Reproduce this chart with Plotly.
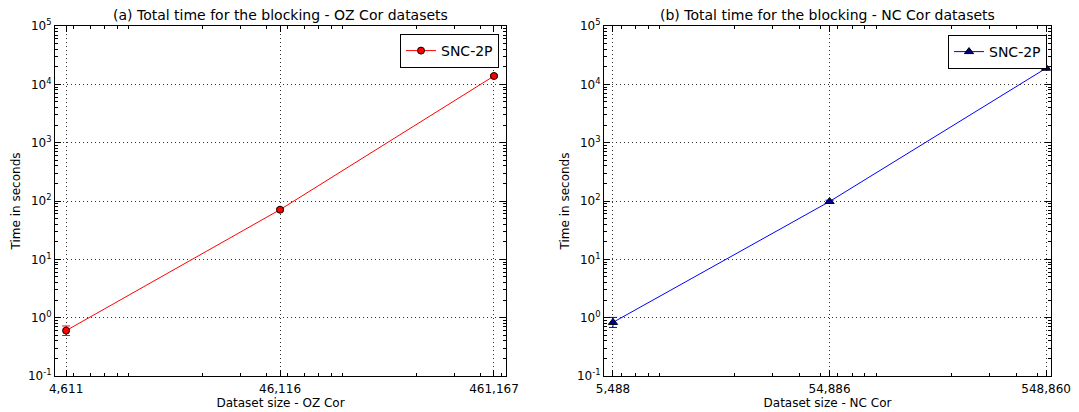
import plotly.graph_objects as go

# ---- data ----
oz_sizes = [4611, 46116, 461167]
oz_labels = ["4,611", "46,116", "461,167"]
oz_times = [0.60, 71, 13900]
oz_err_plus = [0.12, 4, 700]
oz_err_minus = [0.105, 4, 700]

nc_sizes = [5488, 54886, 548860]
nc_labels = ["5,488", "54,886", "548,860"]
nc_times = [0.83, 98, 18900]
nc_err_plus = [0.18, 5, 900]
nc_err_minus = [0.15, 5, 900]

y_tickvals = [0.1, 1, 10, 100, 1000, 10000, 100000]
y_ticktext = ["10<sup>-1</sup>", "10<sup>0</sup>", "10<sup>1</sup>", "10<sup>2</sup>",
              "10<sup>3</sup>", "10<sup>4</sup>", "10<sup>5</sup>"]

titles = ["(a) Total time for the blocking - OZ Cor datasets",
          "(b) Total time for the blocking - NC Cor datasets"]
xlabels = ["Dataset size - OZ Cor", "Dataset size - NC Cor"]

FONT = "DejaVu Sans"

def minor_vals(lo_exp, hi_exp):
    vals = []
    for e in range(lo_exp, hi_exp + 1):
        for k in range(2, 10):
            vals.append(k * 10 ** e)
    return vals

fig = go.Figure()

fig.add_trace(go.Scatter(
    x=oz_sizes, y=oz_times, mode="lines+markers", name="SNC-2P",
    line=dict(color="#ff0000", width=1),
    marker=dict(symbol="circle", size=7, color="#ff0000", line=dict(color="#000000", width=1)),
    error_y=dict(type="data", array=oz_err_plus, arrayminus=oz_err_minus,
                 color="#ff0000", thickness=1, width=4),
    xaxis="x", yaxis="y", legend="legend"))

fig.add_trace(go.Scatter(
    x=nc_sizes, y=nc_times, mode="lines+markers", name="SNC-2P",
    line=dict(color="#0000ff", width=1),
    marker=dict(symbol="triangle-up", size=8, color="#00008b", line=dict(color="#000000", width=1)),
    error_y=dict(type="data", array=nc_err_plus, arrayminus=nc_err_minus,
                 color="#0000ff", thickness=1, width=4),
    xaxis="x2", yaxis="y2", legend="legend2"))

common_axis = dict(
    showline=True, linecolor="black", linewidth=1, mirror="allticks",
    ticks="inside", ticklen=6, tickcolor="black", tickwidth=1,
    showgrid=True, gridcolor="#333333", griddash="1px,3px", gridwidth=1,
    zeroline=False, automargin=False,
    tickfont=dict(family=FONT, size=12, color="black"),
)

yaxis_cfg = dict(common_axis, type="log", range=[-1, 5], tickvals=y_tickvals, ticktext=y_ticktext,
                 minor=dict(tickvals=minor_vals(-1, 4), ticks="inside", ticklen=3,
                            tickcolor="black", showgrid=False),
                 title=dict(text="Time in seconds", font=dict(family=FONT, size=12, color="black"),
                            standoff=4))

xminor = dict(tickvals=minor_vals(3, 5), ticks="inside", ticklen=3, tickcolor="black", showgrid=False)

fig.update_layout(
    width=1079, height=412,
    margin=dict(l=0, r=0, t=0, b=0),
    paper_bgcolor="white", plot_bgcolor="white",
    font=dict(family=FONT, size=12, color="black"),
    showlegend=True,
    xaxis=dict(common_axis, domain=[55 / 1079, 506 / 1079], type="log", range=[3.612, 5.72],
               tickvals=oz_sizes, ticktext=oz_labels, anchor="y", minor=xminor,
               ticklabelstandoff=2,
               title=dict(text=xlabels[0], font=dict(family=FONT, size=12, color="black"), standoff=2)),
    yaxis=dict(yaxis_cfg, domain=[(412 - 376) / 412, (412 - 26) / 412], anchor="x"),
    xaxis2=dict(common_axis, domain=[604 / 1079, 1051 / 1079], type="log", range=[3.698, 5.762],
                tickvals=nc_sizes, ticktext=nc_labels, anchor="y2", minor=xminor,
                ticklabelstandoff=2,
                title=dict(text=xlabels[1], font=dict(family=FONT, size=12, color="black"), standoff=2)),
    yaxis2=dict(yaxis_cfg, domain=[(412 - 376) / 412, (412 - 26) / 412], anchor="x2"),
    legend=dict(x=499 / 1079, y=(412 - 34) / 412, xanchor="right", yanchor="top",
                bordercolor="black", borderwidth=1, bgcolor="white",
                font=dict(family=FONT, size=14, color="black")),
    legend2=dict(x=1047 / 1079, y=(412 - 35) / 412, xanchor="right", yanchor="top",
                 bordercolor="black", borderwidth=1, bgcolor="white",
                 font=dict(family=FONT, size=14, color="black")),
    annotations=[
        dict(text=titles[0], x=(55 + 506) / 2 / 1079, y=(412 - 15) / 412, xref="paper", yref="paper",
             showarrow=False, xanchor="center", yanchor="middle",
             font=dict(family=FONT, size=14, color="black")),
        dict(text=titles[1], x=(604 + 1051) / 2 / 1079, y=(412 - 15) / 412, xref="paper", yref="paper",
             showarrow=False, xanchor="center", yanchor="middle",
             font=dict(family=FONT, size=14, color="black")),
    ],
)

fig.write_html("out.html")
